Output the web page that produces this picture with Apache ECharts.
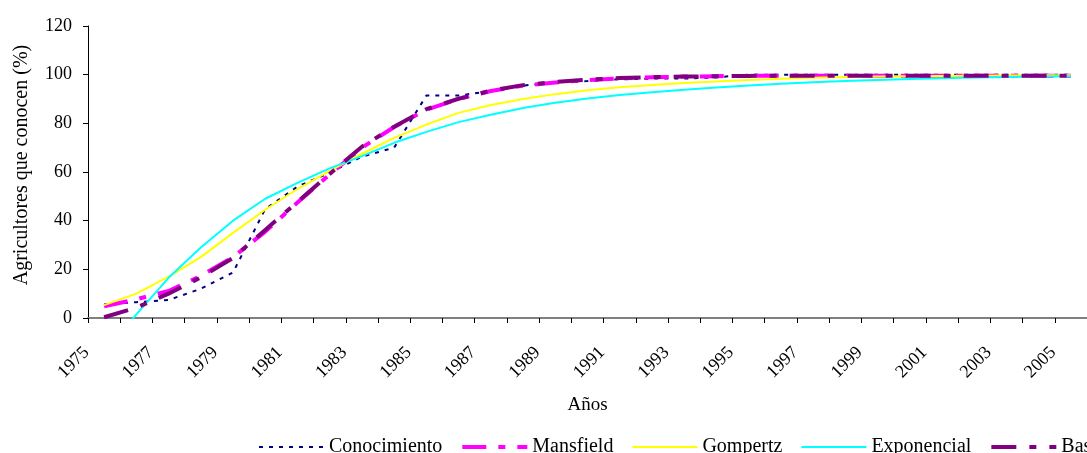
<!DOCTYPE html>
<html>
<head>
<meta charset="utf-8">
<script src="https://cdn.jsdelivr.net/npm/echarts@6/dist/echarts.min.js"></script>
<style>
  html, body { margin: 0; padding: 0; background: #ffffff; }
  #chart { width: 1087px; height: 453px; }
</style>
</head>
<body>
<div id="chart"></div>
<script>
// Years of the survey period (one category per year)
const years = ['1975','1976','1977','1978','1979','1980','1981','1982','1983','1984',
  '1985','1986','1987','1988','1989','1990','1991','1992','1993','1994',
  '1995','1996','1997','1998','1999','2000','2001','2002','2003','2004','2005'];

// Farmers who know the technology (%), observed
const conocimiento = [5.6, 6.5, 7.4, 12, 18.7, 44.8, 54, 59.7, 66.3, 70,
  91.4, 91.4, 93.3, 95.5, 96.8, 97.4, 98.1, 98.4, 98.4, 98.9,
  100, 100, 100, 100, 100, 100, 100, 100, 100, 100, 100];

// Fitted diffusion models (%)
const mansfield = [4.8, 7.7, 11.1, 17.3, 25, 35.5, 47.5, 59, 70, 78.5,
  85.6, 90, 93.3, 95.5, 96.8, 97.8, 98.5, 98.9, 99.2, 99.4,
  99.5, 99.6, 99.6, 99.6, 99.6, 99.6, 99.6, 99.6, 99.6, 99.6, 99.6];

const gompertz = [5.3, 10, 17, 25, 35, 44.5, 53, 60.5, 67.5, 74,
  79.5, 84.3, 87.5, 90, 92, 93.6, 94.8, 95.8, 96.6, 97.2,
  97.8, 98.3, 98.7, 99, 99.2, 99.4, 99.5, 99.6, 99.7, 99.8, 99.8];

const exponencial = [-15, 1.5, 16.5, 29, 40, 49, 55.5, 61.5, 66.5, 72,
  76.5, 80.5, 83.5, 86.3, 88.5, 90.2, 91.6, 92.8, 93.8, 94.7,
  95.5, 96.3, 96.9, 97.4, 97.8, 98.2, 98.5, 98.8, 99, 99.2, 99.4];

const bass = [0.3, 4.3, 10, 16.7, 24.7, 36.2, 47.7, 59.2, 70.4, 78.6,
  85.8, 90.1, 93.4, 95.7, 97, 97.9, 98.6, 99, 99.2, 99.4,
  99.5, 99.6, 99.6, 99.6, 99.6, 99.6, 99.6, 99.6, 99.6, 99.6, 99.6];

const serif = '"Liberation Serif", "Times New Roman", serif';

const chart = echarts.init(document.getElementById('chart'), null, { renderer: 'canvas' });

function lineSeries(name, data, color, width, type) {
  return {
    name: name,
    type: 'line',
    data: data,
    symbol: 'none',
    smooth: false,
    clip: true,
    lineStyle: { color: color, width: width, type: type },
    itemStyle: { color: color },
    emphasis: { disabled: true }
  };
}

chart.setOption({
  animation: false,
  backgroundColor: '#ffffff',
  grid: { left: 88, top: 26, width: 1009, height: 292, containLabel: false },
  legend: {
    left: 258,
    top: 437,
    padding: 0,
    width: 2000,
    orient: 'horizontal',
    itemWidth: 65,
    itemHeight: 14,
    itemGap: 18,
    itemStyle: { opacity: 0 },
    lineStyle: { width: 'inherit', type: 'inherit' },
    textStyle: { fontFamily: serif, fontSize: 20, color: '#000000' },
    data: ['Conocimiento', 'Mansfield', 'Gompertz', 'Exponencial', 'Bass']
  },
  xAxis: {
    type: 'category',
    data: years,
    boundaryGap: true,
    name: 'Años',
    nameLocation: 'middle',
    nameGap: 78,
    nameTextStyle: { fontFamily: serif, fontSize: 19, color: '#000000' },
    axisLine: { lineStyle: { color: '#808080', width: 2 } },
    axisTick: { show: true, interval: 0, length: 5, lineStyle: { color: '#000000', width: 1 } },
    axisLabel: {
      interval: 1,
      rotate: 45,
      margin: 14,
      padding: [0, 25, 0, 0],
      fontFamily: serif,
      fontSize: 18,
      color: '#000000'
    },
    splitLine: { show: false }
  },
  yAxis: {
    type: 'value',
    min: 0,
    max: 120,
    interval: 20,
    name: 'Agricultores que conocen (%)',
    nameLocation: 'middle',
    nameGap: 56,
    nameRotate: 90,
    nameTextStyle: { fontFamily: serif, fontSize: 20, color: '#000000', padding: [0, 0, 0, 14] },
    axisLine: { show: true, lineStyle: { color: '#000000', width: 1 } },
    axisTick: { show: true, length: 5, lineStyle: { color: '#000000', width: 1 } },
    axisLabel: { margin: 16, fontFamily: serif, fontSize: 18, color: '#000000' },
    splitLine: { show: false }
  },
  series: [
    lineSeries('Conocimiento', conocimiento, '#000080', 2, [4, 6]),
    lineSeries('Mansfield', mansfield, '#ff00ff', 4, [24, 12, 7, 12]),
    lineSeries('Gompertz', gompertz, '#ffff00', 2, 'solid'),
    lineSeries('Exponencial', exponencial, '#00ffff', 2, 'solid'),
    lineSeries('Bass', bass, '#800080', 4, [25, 13, 7, 13])
  ]
});
</script>
</body>
</html>
